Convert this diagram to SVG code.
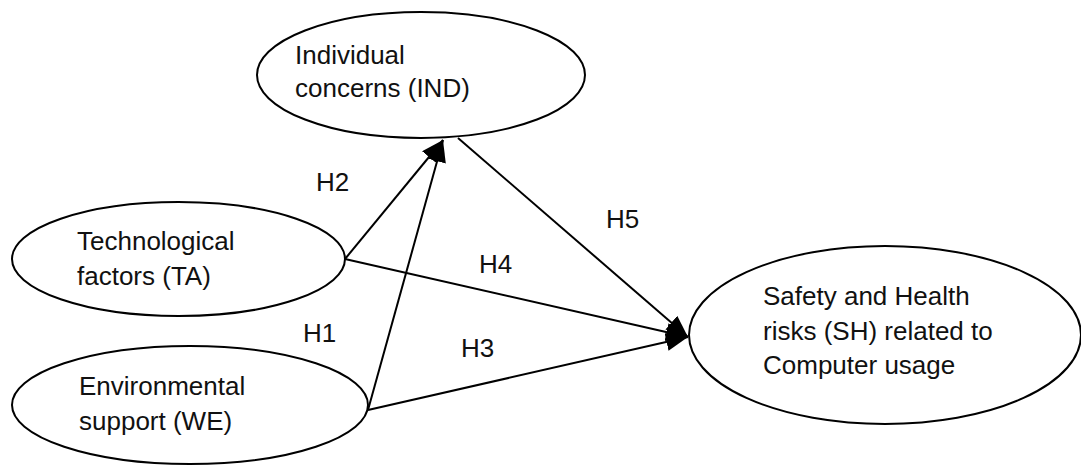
<svg xmlns="http://www.w3.org/2000/svg" width="1081" height="466" viewBox="0 0 1081 466">
<style>
.n{fill:#fff;stroke:#000;stroke-width:2}
.t{font-family:"Liberation Sans",Arial,sans-serif;font-size:26px;fill:#111}
.c{stroke:#000;stroke-width:2;fill:none;marker-end:url(#ah)}
</style>
<defs>
<marker id="ah" markerUnits="userSpaceOnUse" markerWidth="24" markerHeight="20" refX="22" refY="9" orient="auto">
<path d="M0,0 L22,9 L0,18 z" fill="#000"/>
</marker>
</defs>
<rect width="1081" height="466" fill="#fff"/>
<g id="IND"><ellipse class="n" cx="421" cy="75" rx="164" ry="63"/>
<text class="t" x="295" y="64">Individual</text><text class="t" x="295" y="97">concerns (IND)</text></g>
<g id="TA"><ellipse class="n" cx="178.5" cy="259" rx="166.5" ry="57"/>
<text class="t" x="77" y="250">Technological</text><text class="t" x="77" y="285">factors (TA)</text></g>
<g id="WE"><ellipse class="n" cx="190" cy="405" rx="178" ry="59"/>
<text class="t" x="79" y="395">Environmental</text><text class="t" x="79" y="430">support (WE)</text></g>
<g id="SH"><ellipse class="n" cx="885" cy="335" rx="196" ry="89"/>
<text class="t" x="763" y="305">Safety and Health</text><text class="t" x="763" y="340">risks (SH) related to</text><text class="t" x="763" y="374">Computer usage</text></g>
<g id="connectors">
<line class="c" x1="345" y1="259" x2="443" y2="140"/>
<line class="c" x1="368" y1="410" x2="443" y2="140"/>
<line class="c" x1="458" y1="138" x2="688" y2="337"/>
<line class="c" x1="345" y1="259" x2="688" y2="337"/>
<line class="c" x1="368" y1="410" x2="688" y2="337"/>
</g>
<g id="labels">
<text class="t" x="316" y="191">H2</text>
<text class="t" x="303" y="342">H1</text>
<text class="t" x="479" y="273">H4</text>
<text class="t" x="461" y="357">H3</text>
<text class="t" x="606" y="228">H5</text>
</g>
</svg>
